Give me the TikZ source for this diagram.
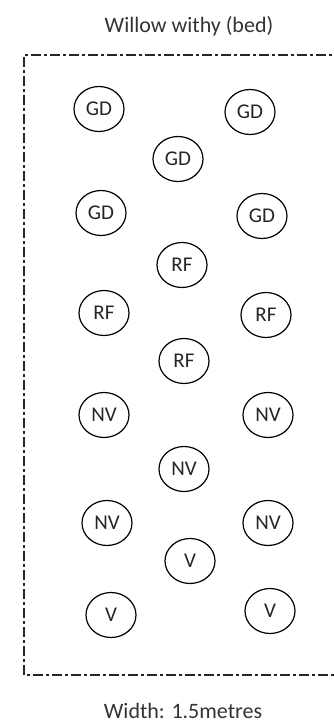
\documentclass[tikz,border=0pt]{standalone}
\usepackage{fontspec}
\setmainfont{Carlito}
\usetikzlibrary{shapes.geometric}

\begin{document}
\begin{tikzpicture}[x=1pt,y=-1pt,font=\fontsize{22}{26}\selectfont]
\tikzset{
% One style for the plants in the bed and one for the bed edge
plant node/.style={ellipse,draw,line width=1.2pt,minimum width=50pt,minimum height=45pt,inner sep=0pt,text=black!85,font=\fontsize{21}{24}\selectfont},
bed edge/.style={line width=1.3pt,black!85,dash pattern=on 10pt off 3pt on 3pt off 3pt}
}
\useasboundingbox (0,0) rectangle (334,725);

% The bed
\coordinate (tl) at (24,55);
\coordinate (tr) at (345,55);
\coordinate (bl) at (24,675);
\coordinate (br) at (345,675);
\draw[bed edge] (tr) -- (tl) -- (bl) -- (br);

\node(title)[text=black!80] at (189,26) {Willow withy (bed)};
\node(width)[text=black!80] at (183,711) {Width: 1.5metres};

% The plants
\node(gd1)[plant node] at (99,109) {GD};
\node(gd2)[plant node] at (250,112) {GD};
\node(gd3)[plant node] at (178,159) {GD};
\node(gd4)[plant node] at (101,213) {GD};
\node(gd5)[plant node] at (262,216) {GD};

\node(rf1)[plant node] at (182,265) {RF};
\node(rf2)[plant node] at (104,313) {RF};
\node(rf3)[plant node] at (266,315) {RF};
\node(rf4)[plant node] at (184,361) {RF};

\node(nv1)[plant node] at (104,415) {NV};
\node(nv2)[plant node] at (268,415) {NV};
\node(nv3)[plant node] at (184,469) {NV};
\node(nv4)[plant node] at (107,523) {NV};
\node(nv5)[plant node] at (268,523) {NV};

\node(v1)[plant node] at (190,561) {V};
\node(v2)[plant node] at (111,615) {V};
\node(v3)[plant node] at (270,611) {V};

\end{tikzpicture}
\end{document}
